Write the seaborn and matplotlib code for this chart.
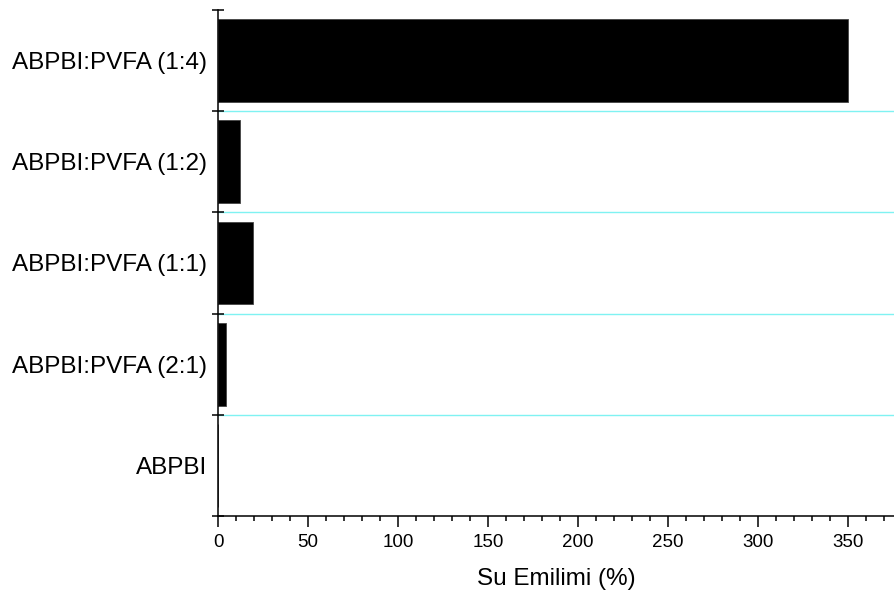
import matplotlib
matplotlib.use("Agg")
import matplotlib.pyplot as plt
import seaborn as sns
import pandas as pd
import numpy as np
from matplotlib.ticker import MultipleLocator, FixedLocator

sns.set_theme(style="white")
plt.rcParams['font.family'] = ['Liberation Sans', 'DejaVu Sans']

samples = ["ABPBI:PVFA (1:4)", "ABPBI:PVFA (1:2)", "ABPBI:PVFA (1:1)",
           "ABPBI:PVFA (2:1)", "ABPBI"]
water_uptake = [350, 12, 19.5, 4.5, 0]

df = pd.DataFrame({"sample": samples, "uptake": water_uptake})

fig = plt.figure(figsize=(8.94, 5.98), dpi=100)
ax = fig.add_axes([218 / 894, 82 / 598, 676 / 894, 506 / 598])

sns.barplot(data=df, x="uptake", y="sample", order=samples, orient="h",
            color="black", saturation=1, width=0.82, ax=ax,
            edgecolor="#444444", linewidth=0.6)

# light separators between categories
for b in np.arange(0.5, len(samples) - 1, 1.0):
    ax.axhline(b, color="#7ff2f2", lw=1.0, zorder=0.5)

ax.set_xlim(0, 375.5)
ax.set_ylim(len(samples) - 0.5, -0.5)

ax.xaxis.set_major_locator(MultipleLocator(50))
ax.xaxis.set_minor_locator(MultipleLocator(10))
ax.tick_params(axis="x", which="major", direction="out", length=8, width=1.1,
               color="black", labelsize=13.5, pad=5, bottom=True)
ax.tick_params(axis="x", which="minor", direction="out", length=3.8, width=1.1,
               color="black", bottom=True)

ax.yaxis.set_minor_locator(FixedLocator(np.arange(-0.5, len(samples), 1.0)))
ax.tick_params(axis="y", which="major", length=0, labelsize=17.5, pad=8, left=True)
ax.tick_params(axis="y", which="minor", direction="inout", length=8, width=1.1,
               color="black", left=True)

for s in ["top", "right"]:
    ax.spines[s].set_visible(False)
for s in ["left", "bottom"]:
    ax.spines[s].set_color("black")
    ax.spines[s].set_linewidth(1.1)

ax.set_ylabel("")
ax.set_xlabel("Su Emilimi (%)", fontsize=17.5, labelpad=12, color="black")
for lbl in ax.get_xticklabels() + ax.get_yticklabels():
    lbl.set_color("black")

fig.savefig("out.png", dpi=100, facecolor="white")
